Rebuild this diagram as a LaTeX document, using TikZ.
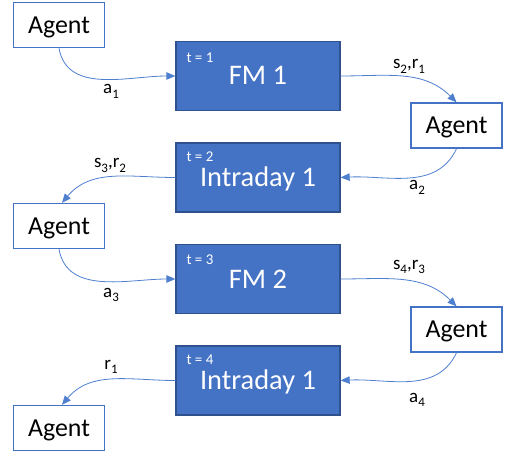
\documentclass[tikz,border=0pt]{standalone}
\usepackage{fontspec}
\setmainfont{Carlito}
\usetikzlibrary{arrows.meta}
\definecolor{boxblue}{HTML}{4472C4}
\definecolor{boxedge}{HTML}{2F528F}
\definecolor{linkblue}{HTML}{4F7FCF}
\newcommand{\lowsub}[1]{\raisebox{-4.5bp}{\fontsize{13}{15}\selectfont #1}}
\begin{document}
\begin{tikzpicture}[x=1bp,y=1bp,
  agentbox/.style={draw=boxblue,line width=1.4bp,fill=white,minimum width=91bp,minimum height=45bp,inner sep=0pt,
    font=\fontsize{26}{30}\selectfont,text height=16.4bp,text depth=0pt},
  stagebox/.style={draw=boxedge,line width=1.3bp,fill=boxblue,minimum width=164bp,minimum height=69bp,inner sep=0pt,
    text=white,font=\fontsize{28.5}{32}\selectfont,text height=18bp,text depth=0pt},
  tlabel/.style={anchor=base west,text=white,inner sep=0pt,font=\fontsize{15}{17}\selectfont},
  edgelabel/.style={inner sep=0pt,anchor=base,font=\fontsize{19}{21}\selectfont},
  link/.style={draw=linkblue,line width=0.8bp,-{Triangle[length=9bp,width=7.5bp]}}]
\useasboundingbox (0,0) rectangle (505,-457);

\node[agentbox] (ag1) at (59,-25) {Agent};
\node[stagebox] (fm1) at (258,-76) {FM 1};
\node[agentbox] (ag2) at (456.5,-125.5) {Agent};
\node[stagebox] (id1) at (258,-177.5) {Intraday 1};
\node[agentbox] (ag3) at (59,-226) {Agent};
\node[stagebox] (fm2) at (258,-279) {FM 2};
\node[agentbox] (ag4) at (456.5,-329.5) {Agent};
\node[stagebox] (id2) at (258,-380.5) {Intraday 1};
\node[agentbox] (ag5) at (59,-428) {Agent};

\node[tlabel] (t1) at ([xshift=11bp,yshift=-22bp]fm1.north west) {t = 1};
\node[tlabel] (t2) at ([xshift=11bp,yshift=-19.5bp]id1.north west) {t = 2};
\node[tlabel] (t3) at ([xshift=11bp,yshift=-21bp]fm2.north west) {t = 3};
\node[tlabel] (t4) at ([xshift=11bp,yshift=-19.5bp]id2.north west) {t = 4};

\draw[link] (ag1.south) to[out=-80,in=180] (fm1.west);
\draw[link] (fm1.east) to[out=0,in=135] (ag2.north);
\draw[link] (ag2.south) to[out=-115,in=3] (id1.east);
\draw[link] (id1.west) to[out=180,in=50] ([xshift=3bp]ag3.north);
\draw[link] (ag3.south) to[out=-80,in=180] (fm2.west);
\draw[link] (fm2.east) to[out=0,in=135] (ag4.north);
\draw[link] (ag4.south) to[out=-115,in=3] (id2.east);
\draw[link] (id2.west) to[out=180,in=50] ([xshift=3bp]ag5.north);

\node[edgelabel] (l1) at (111,-94) {a\lowsub{1}};
\node[edgelabel] (l2) at (409,-69) {s\lowsub{2},r\lowsub{1}};
\node[edgelabel] (l3) at (417,-190) {a\lowsub{2}};
\node[edgelabel] (l4) at (110,-168) {s\lowsub{3},r\lowsub{2}};
\node[edgelabel] (l5) at (111,-297) {a\lowsub{3}};
\node[edgelabel] (l6) at (409,-269) {s\lowsub{4},r\lowsub{3}};
\node[edgelabel] (l7) at (417,-402) {a\lowsub{4}};
\node[edgelabel] (l8) at (111,-369) {r\lowsub{1}};
\end{tikzpicture}
\end{document}
